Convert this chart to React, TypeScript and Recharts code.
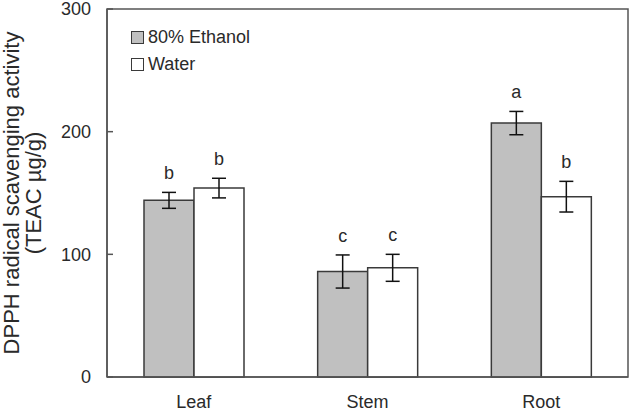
import React from 'react';
import { BarChart, Bar, XAxis, YAxis, ErrorBar, LabelList, ReferenceArea } from 'recharts';

const categories = ['Leaf', 'Stem', 'Root'];
const ethanolValues = [144, 86, 207];
const ethanolErrors = [6.5, 13.5, 9.5];
const ethanolLetters = ['b', 'c', 'a'];
const waterValues = [154, 89, 147];
const waterErrors = [8, 11, 12.5];
const waterLetters = ['b', 'c', 'b'];
const yTicks = [0, 100, 200, 300];

const data = categories.map((name, i) => ({
  name,
  ethanol: ethanolValues[i],
  ethanolErr: ethanolErrors[i],
  ethanolLetter: ethanolLetters[i],
  water: waterValues[i],
  waterErr: waterErrors[i],
  waterLetter: waterLetters[i],
}));

const FONT = 'Liberation Sans, Arial, sans-serif';
const TEXT = '#2a2a2a';
const AXIS = '#555';
const EDGE = '#3a3a3a';

// letter sits above the error bar cap; px-per-unit comes from the bar itself
const letterContent = (values: number[], errors: number[]) => (props: any) => {
  const { x, y, width, height, value, index } = props;
  const perUnit = height / values[index];
  const capTop = y - errors[index] * perUnit;
  return (
    <text x={x + width / 2} y={capTop - 13} textAnchor="middle" fontSize={18} fontFamily={FONT} fill={TEXT}>
      {value}
    </text>
  );
};

const YTick = (props: any) => {
  const { x, y, payload } = props;
  return (
    <g>
      <line x1={x} x2={x + 6} y1={y} y2={y} stroke={AXIS} strokeWidth={1.5} />
      <text x={x - 16} y={y} dy="0.36em" textAnchor="end" fontSize={18} fontFamily={FONT} fill={TEXT}>
        {payload.value}
      </text>
    </g>
  );
};

const XTick = (props: any) => {
  const { x, y, payload } = props;
  return (
    <text x={x} y={y + 29} textAnchor="middle" fontSize={18} fontFamily={FONT} fill={TEXT}>
      {payload.value}
    </text>
  );
};

const YTitle = () => (
  <g fontSize={22} fontFamily={FONT} fill={TEXT}>
    <text transform="rotate(-90)" x={-193} y={19} textAnchor="middle">
      DPPH radical scavenging activity
    </text>
    <text transform="rotate(-90)" x={-193} y={41} textAnchor="middle">
      (TEAC µg/g)
    </text>
  </g>
);

const legendItems = [
  { label: '80% Ethanol', fill: '#c0c0c0' },
  { label: 'Water', fill: '#ffffff' },
];

const LegendBox = () => (
  <div style={{ position: 'absolute', left: 131, top: 24, fontFamily: FONT, fontSize: 18, color: TEXT }}>
    {legendItems.map((it) => (
      <div key={it.label} style={{ display: 'flex', alignItems: 'center', height: 27 }}>
        <span
          style={{
            display: 'inline-block',
            width: 11,
            height: 11,
            background: it.fill,
            border: `1.5px solid ${EDGE}`,
            marginRight: 4,
          }}
        />
        <span>{it.label}</span>
      </div>
    ))}
  </div>
);

export default function App() {
  return (
    <div style={{ position: 'absolute', left: 0, top: 0, width: 638, height: 412 }}>
      <BarChart
        width={638}
        height={412}
        data={data}
        margin={{ top: 9, right: 10, left: 0, bottom: 0 }}
        barSize={50}
        barGap={0}
      >
        <XAxis
          dataKey="name"
          height={35}
          axisLine={{ stroke: AXIS, strokeWidth: 1.5 }}
          tickLine={false}
          tickSize={0}
          tick={<XTick />}
        />
        <YAxis
          width={107}
          domain={[0, 300]}
          ticks={yTicks}
          axisLine={{ stroke: AXIS, strokeWidth: 1.5 }}
          tickLine={false}
          tickSize={0}
          tickMargin={0}
          tick={<YTick />}
          label={{ content: <YTitle /> }}
        />
        {/* plot frame */}
        <ReferenceArea y1={0} y2={300} fill="none" fillOpacity={0} stroke={AXIS} strokeWidth={1.5} />
        <Bar dataKey="ethanol" name="80% Ethanol" fill="#c0c0c0" stroke={EDGE} strokeWidth={1.5} isAnimationActive={false}>
          <ErrorBar dataKey="ethanolErr" width={7} stroke="#111" strokeWidth={1.5} />
          <LabelList dataKey="ethanolLetter" content={letterContent(ethanolValues, ethanolErrors)} />
        </Bar>
        <Bar dataKey="water" name="Water" fill="#ffffff" stroke={EDGE} strokeWidth={1.5} isAnimationActive={false}>
          <ErrorBar dataKey="waterErr" width={7} stroke="#111" strokeWidth={1.5} />
          <LabelList dataKey="waterLetter" content={letterContent(waterValues, waterErrors)} />
        </Bar>
      </BarChart>
      <LegendBox />
    </div>
  );
}
